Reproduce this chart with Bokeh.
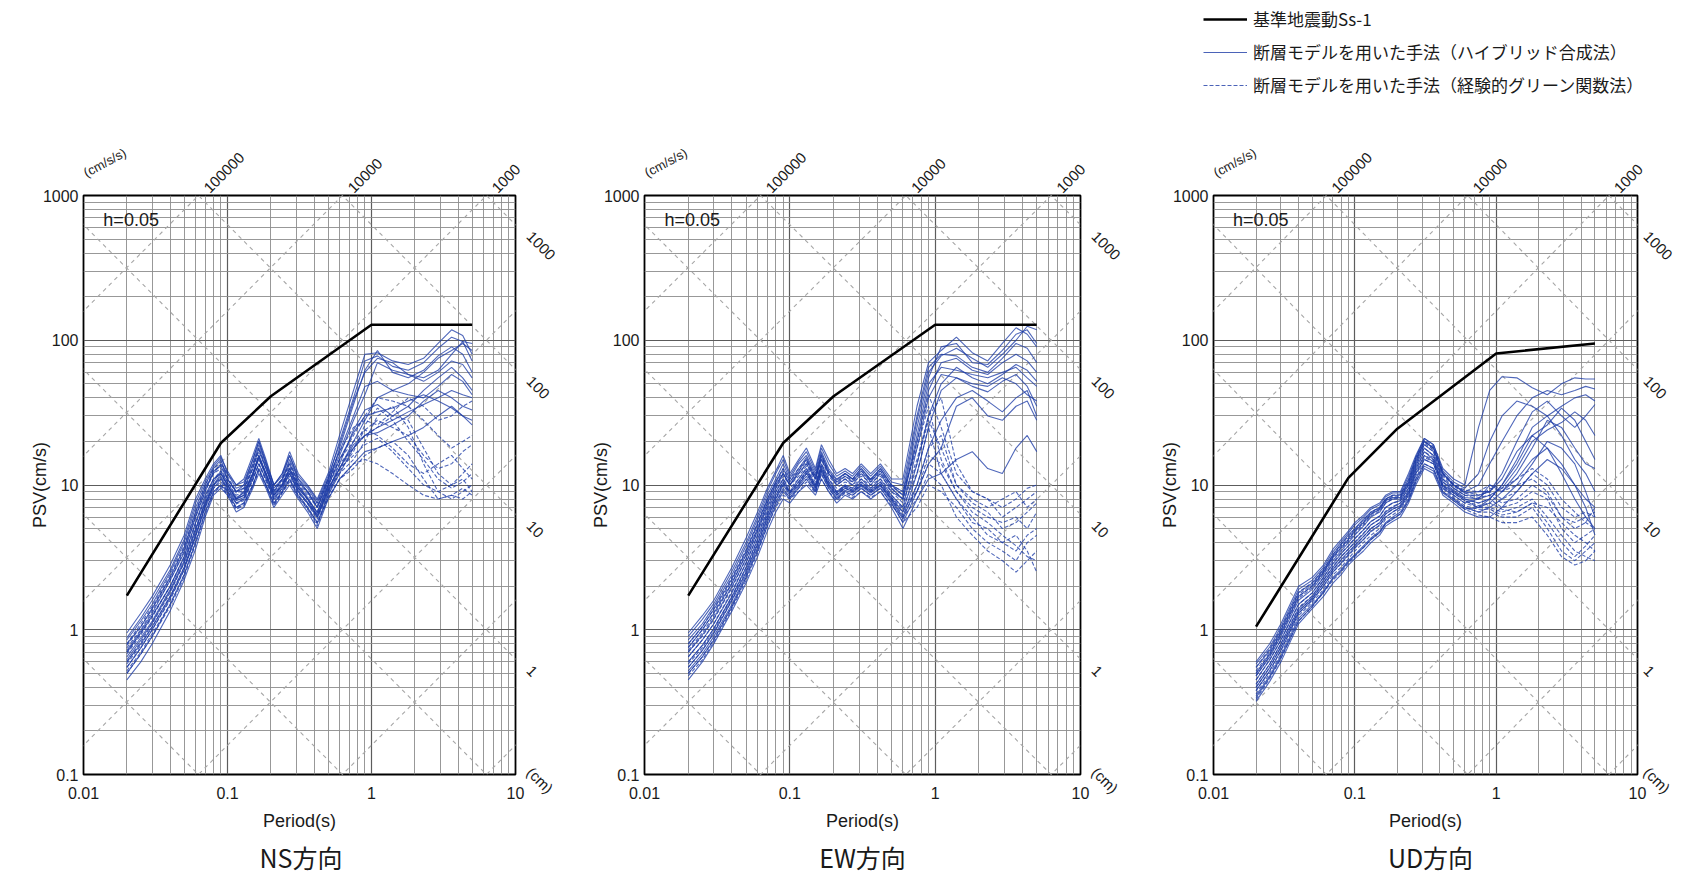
import math
from bokeh.plotting import figure
from bokeh.models import (FixedTicker, Label, Legend, LegendItem, CustomJSTickFormatter,
                          LogAxis, Spacer)
from bokeh.layouts import row, column
from bokeh.embed import file_html
from bokeh.resources import INLINE

# ---------------- data ----------------
PERIOD = [0.02, 0.025, 0.03, 0.04, 0.05, 0.06, 0.07, 0.08, 0.09, 0.1, 0.115, 0.13,
          0.15, 0.165, 0.185, 0.21, 0.24, 0.27, 0.31, 0.36, 0.42, 0.5, 0.6, 0.75,
          0.9, 1.1, 1.4, 1.8, 2.3, 2.9, 3.6, 4.3, 5.0]

SS_PERIOD = [0.02, 0.09, 0.2, 1.0, 5.0]
SS_H = [1.72, 19.5, 41.0, 128.0, 128.0]
SS_V = [1.05, 11.2, 24.5, 81.0, 95.0]

NS_HYBRID = [
    [0.95, 1.3, 1.7, 2.8, 4.5, 8.0, 11, 14, 16, 12, 10, 11, 16, 21, 15, 10, 12, 17, 12, 10, 8, 12, 22, 45, 80, 82, 72, 68, 75, 95, 118, 108, 80],
    [0.85, 1.15, 1.5, 2.5, 4.0, 7.0, 10, 13, 15, 11, 9, 10, 14, 19, 14, 9, 11, 15, 11, 9, 7, 11, 20, 40, 72, 78, 66, 62, 70, 88, 105, 98, 72],
    [0.7, 0.95, 1.25, 2.0, 3.2, 5.5, 8.5, 11, 12, 10, 8, 9, 12, 16, 12, 8.5, 10, 13, 10, 8, 6.5, 10, 18, 36, 62, 85, 60, 55, 62, 78, 90, 80, 60],
    [0.6, 0.8, 1.05, 1.7, 2.7, 4.5, 7, 9.5, 11, 9.5, 7.5, 8, 11, 14, 11, 8, 9.5, 12, 9, 7.5, 6, 9, 14, 24, 33, 36, 30, 35, 45, 55, 65, 55, 45],
    [0.5, 0.68, 0.9, 1.5, 2.4, 4.0, 6.5, 9, 10, 9, 7, 7.5, 10, 13, 10, 7.5, 9, 11, 8.5, 7, 5.5, 8.5, 12, 18, 22, 25, 28, 32, 36, 40, 45, 42, 40],
    [0.45, 0.6, 0.8, 1.35, 2.2, 3.6, 6, 8.5, 9.5, 8.5, 6.5, 7, 9.5, 12, 9.5, 7, 8.5, 10, 8, 6.5, 5, 8, 11, 14, 17, 18, 20, 22, 25, 30, 35, 30, 28],
    [0.8, 1.05, 1.4, 2.3, 3.7, 6.5, 9.5, 12, 14, 12, 9.5, 10, 15, 20, 14, 10, 12, 16, 11, 9.5, 7.5, 11, 17, 30, 48, 52, 45, 50, 60, 75, 85, 95, 85],
    [0.65, 0.88, 1.15, 1.9, 3.0, 5.0, 7.5, 10, 12, 10, 8, 8.5, 12, 15, 12, 8.5, 10, 12.5, 9.5, 8, 6, 9.5, 13, 19, 22, 23, 26, 30, 38, 45, 40, 35, 33],
    [0.72, 0.98, 1.3, 2.2, 3.4, 6.0, 9.0, 12.5, 13.5, 11, 9, 9.5, 13, 18, 13, 9.5, 11, 14, 10.5, 9, 7, 10.5, 16, 28, 42, 70, 62, 58, 52, 60, 72, 68, 55],
    [0.55, 0.75, 1.0, 1.65, 2.6, 4.4, 7.2, 10, 11.5, 9.5, 7.8, 8.2, 11.5, 15.5, 11.5, 8.2, 9.8, 12, 9.2, 7.6, 6.2, 9.2, 13, 20, 28, 40, 45, 42, 40, 48, 58, 52, 42],
    [0.88, 1.2, 1.6, 2.6, 4.2, 7.5, 10.5, 13.5, 15.5, 12.5, 10, 10.5, 15, 20, 14.5, 10, 11.5, 16, 11.5, 9.8, 7.8, 11.5, 19, 38, 60, 75, 70, 58, 55, 62, 80, 98, 95],
    [0.62, 0.85, 1.12, 1.85, 2.9, 4.8, 7.8, 10.5, 12.5, 10.5, 8.2, 8.8, 12, 16, 12, 8.8, 10.2, 13, 9.8, 8.2, 6.4, 9.8, 15, 23, 30, 32, 34, 38, 42, 38, 34, 30, 26],
]
NS_EGF = [
    [0.75, 1.0, 1.35, 2.2, 3.5, 6, 9, 12, 13, 10.5, 8.5, 9, 13, 17, 13, 9, 10.5, 13.5, 10, 8.5, 7, 10, 14, 18, 22, 25, 30, 28, 18, 12, 10, 12, 14],
    [0.6, 0.82, 1.1, 1.8, 2.9, 5, 7.5, 10, 11, 9, 7.5, 8, 11, 14, 11, 8, 9.5, 12, 9, 7.5, 6, 9, 12, 15, 20, 30, 35, 25, 14, 9, 8, 9, 10],
    [0.7, 0.95, 1.25, 2.0, 3.2, 5.5, 8, 11, 12.5, 10, 8, 8.5, 12, 16, 12, 8.5, 10, 13, 9.5, 8, 6.5, 10, 15, 22, 30, 40, 38, 35, 28, 22, 18, 20, 22],
    [0.55, 0.75, 1.0, 1.6, 2.6, 4.4, 7, 9.5, 10.5, 9, 7, 7.5, 10, 13, 10, 7.5, 9, 11, 8.5, 7, 5.5, 8, 11, 13, 16, 18, 20, 16, 11, 8, 8.5, 8, 9],
    [0.8, 1.1, 1.45, 2.4, 3.8, 6.5, 10, 13, 14.5, 11.5, 9, 9.5, 14, 18, 13.5, 9.5, 11, 14.5, 10.5, 9, 7.5, 11, 17, 25, 28, 26, 32, 40, 35, 28, 30, 35, 38],
    [0.5, 0.68, 0.9, 1.45, 2.3, 3.9, 6.2, 8.8, 9.8, 8.5, 6.8, 7.2, 9.8, 12.5, 9.8, 7.2, 8.8, 10.5, 8.2, 6.8, 5.2, 8.5, 13, 18, 24, 22, 18, 14, 12, 14, 16, 13, 11],
    [0.68, 0.92, 1.22, 2.0, 3.1, 5.3, 8.2, 11, 12, 9.8, 8, 8.5, 11.5, 15.5, 11.5, 8.5, 10, 12.5, 9.5, 8, 6.2, 9.5, 13, 16, 19, 21, 17, 13, 10, 9, 10, 11, 9],
    [0.58, 0.78, 1.05, 1.7, 2.7, 4.7, 7.3, 10, 11.2, 9.2, 7.4, 7.8, 10.8, 14, 10.6, 7.8, 9.2, 11.5, 8.8, 7.4, 5.8, 8.8, 12.5, 17, 26, 34, 28, 20, 15, 11, 9.5, 10.5, 12],
    [0.78, 1.05, 1.4, 2.3, 3.6, 6.2, 9.5, 12.5, 13.8, 11, 8.8, 9.2, 13.5, 17.5, 13, 9.2, 10.8, 14, 10.2, 8.8, 7.2, 10.5, 15, 20, 24, 28, 25, 22, 16, 13, 14, 17, 19],
    [0.52, 0.7, 0.94, 1.5, 2.4, 4.1, 6.5, 9, 10, 8.7, 6.9, 7.3, 10, 12.8, 10, 7.3, 8.9, 10.8, 8.3, 6.9, 5.4, 8.2, 11, 14, 15, 14, 12, 10, 8.5, 8, 8.5, 9.5, 8.5],
]

EW_HYBRID = [
    [0.95, 1.25, 1.6, 2.7, 4.3, 6.5, 9.5, 12.5, 16, 12, 15, 18, 13, 19, 15, 12, 13, 12, 14, 12, 14, 11, 11, 35, 70, 85, 105, 82, 72, 95, 122, 110, 90],
    [0.85, 1.1, 1.45, 2.4, 3.8, 5.8, 8.5, 11, 14, 11, 14, 16, 12, 17, 13, 11, 12, 11, 13, 11, 13, 10, 9, 28, 60, 78, 88, 75, 65, 80, 100, 125, 118],
    [0.75, 1.0, 1.3, 2.1, 3.3, 5.0, 7.5, 10, 12, 10, 12, 14, 11, 15, 12, 10, 11, 10, 12, 10, 12, 9, 8, 22, 50, 65, 62, 58, 55, 60, 65, 55, 48],
    [0.65, 0.85, 1.1, 1.8, 2.9, 4.5, 6.5, 9, 11, 9, 11, 13, 10, 14, 11, 9, 10, 9.5, 11, 9.5, 11, 8.5, 7, 18, 40, 58, 55, 50, 48, 55, 50, 42, 38],
    [0.55, 0.72, 0.95, 1.6, 2.5, 3.9, 5.8, 8, 10, 8.5, 10, 12, 9.5, 13, 10, 8.5, 9.5, 9, 10, 9, 10, 8, 6, 12, 25, 45, 55, 48, 44, 52, 58, 48, 35],
    [0.5, 0.65, 0.85, 1.45, 2.3, 3.5, 5.2, 7.2, 9, 8, 9.5, 11, 9, 12, 9.5, 8, 9, 8.5, 9.5, 8.5, 9.5, 7.5, 5.5, 9, 14, 18, 35, 40, 30, 28, 35, 38, 28],
    [0.7, 0.92, 1.2, 2.0, 3.1, 4.8, 7, 9.5, 12, 10, 12.5, 15, 11, 16, 12, 10.5, 11.5, 10.5, 12.5, 10.5, 12.5, 9.5, 8, 20, 45, 70, 75, 62, 58, 70, 80, 72, 60],
    [0.45, 0.6, 0.8, 1.35, 2.1, 3.2, 4.8, 6.5, 8, 7.5, 9, 10, 8.5, 11, 9, 7.5, 8.5, 8, 9, 8, 9, 7, 5, 8, 11, 12, 15, 17, 13, 12, 18, 22, 17],
    [0.8, 1.05, 1.38, 2.25, 3.5, 5.4, 8, 10.5, 13, 10.5, 13, 15.5, 11.5, 16.5, 12.5, 10.8, 12, 11, 13, 10.8, 13, 10, 8.5, 25, 55, 90, 95, 70, 68, 85, 110, 118, 95],
    [0.6, 0.78, 1.02, 1.7, 2.7, 4.2, 6.2, 8.5, 10.5, 8.8, 10.5, 12.5, 9.8, 13.5, 10.5, 8.8, 9.8, 9.2, 10.5, 9.2, 10.5, 8.2, 6.5, 14, 30, 50, 65, 55, 50, 58, 68, 62, 52],
    [0.52, 0.68, 0.9, 1.5, 2.4, 3.7, 5.5, 7.6, 9.5, 8.2, 9.8, 11.5, 9.2, 12.5, 9.8, 8.2, 9.2, 8.8, 9.8, 8.8, 9.8, 7.8, 5.8, 10, 18, 28, 40, 45, 38, 32, 40, 45, 30],
    [0.9, 1.18, 1.52, 2.55, 4.0, 6.1, 9, 12, 15, 11.5, 14.5, 17, 12.5, 18, 14, 11.5, 12.5, 11.5, 13.5, 11.5, 13.5, 10.5, 10, 30, 65, 80, 78, 65, 60, 75, 95, 88, 70],
]
EW_EGF = [
    [0.8, 1.05, 1.4, 2.3, 3.6, 5.5, 8, 10.5, 13, 11, 13, 15, 11.5, 16, 12.5, 10.5, 12, 11, 12.5, 11, 12.5, 10, 9, 18, 35, 15, 9, 7, 6, 5.5, 6, 5, 6.5],
    [0.65, 0.85, 1.1, 1.85, 2.9, 4.5, 6.8, 9, 11, 9.5, 11, 13, 10, 13.5, 10.5, 9, 10, 9.5, 10.5, 9.5, 10.5, 8.5, 7, 12, 25, 12, 8, 6, 4.5, 4, 3.5, 4.5, 5],
    [0.55, 0.72, 0.95, 1.6, 2.5, 3.9, 5.9, 8, 10, 8.8, 10, 12, 9.5, 12.5, 10, 8.5, 9.5, 9, 10, 9, 10, 8, 6.5, 10, 18, 22, 10, 8, 7, 8, 9, 7, 8],
    [0.48, 0.62, 0.82, 1.4, 2.2, 3.4, 5.2, 7, 8.5, 8, 9, 10.5, 8.8, 11, 9, 7.8, 8.8, 8.2, 9, 8.2, 9, 7.2, 6, 8, 12, 10, 6, 4.5, 3.5, 3, 2.5, 3, 3.5],
    [0.72, 0.95, 1.25, 2.1, 3.3, 5, 7.5, 10, 12, 10, 12, 14, 11, 15, 11.5, 10, 11, 10.5, 11.5, 10.5, 11.5, 9.5, 8, 15, 30, 40, 14, 9, 8, 6, 7, 8, 9],
    [0.6, 0.78, 1.02, 1.7, 2.7, 4.2, 6.3, 8.5, 10.5, 9, 10.5, 12.5, 9.8, 13, 10.2, 8.8, 9.8, 9.2, 10.2, 9.2, 10.2, 8.2, 6.8, 9, 14, 12, 8, 5.5, 5, 4, 4.5, 3.5, 2.5],
    [0.7, 0.9, 1.18, 1.95, 3.1, 4.8, 7.2, 9.5, 11.5, 10, 11.5, 13.5, 10.5, 14, 11, 9.5, 10.5, 10, 11, 10, 11, 9, 7.5, 14, 28, 18, 10, 7.5, 6.5, 5, 5.5, 6.5, 7.5],
    [0.58, 0.75, 0.98, 1.65, 2.6, 4.0, 6, 8.2, 10.2, 8.9, 10.2, 12.2, 9.6, 12.8, 10, 8.6, 9.6, 9, 10, 9, 10, 8, 6.2, 9, 16, 14, 9, 6.5, 5.5, 4.5, 3.8, 3.2, 3],
    [0.5, 0.65, 0.86, 1.45, 2.3, 3.6, 5.5, 7.5, 9.2, 8.2, 9.5, 11, 9, 11.8, 9.5, 8, 9, 8.5, 9.5, 8.5, 9.5, 7.5, 5.5, 7, 10, 9, 7, 5, 4, 3.5, 3, 4, 4.5],
    [0.76, 1.0, 1.32, 2.2, 3.45, 5.3, 7.8, 10.3, 12.5, 10.5, 12.5, 14.5, 11.2, 15.5, 12, 10.2, 11.5, 10.8, 12, 10.8, 12, 9.8, 8.5, 20, 42, 25, 12, 9, 8, 7, 8, 9.5, 10],
]

UD_HYBRID = [
    [0.6, 0.8, 1.1, 2.0, 2.3, 2.8, 3.6, 4.2, 4.8, 5.5, 6.2, 7, 7.5, 8.5, 9, 9, 12, 16, 21, 19, 13, 11, 10, 25, 45, 56, 55, 47, 42, 50, 55, 54, 54],
    [0.55, 0.72, 1.0, 1.8, 2.1, 2.6, 3.3, 3.9, 4.5, 5.0, 5.8, 6.5, 7, 8, 8.5, 8.5, 11, 15, 20, 18, 12, 10, 9, 10, 14, 20, 30, 40, 45, 42, 45, 48, 46],
    [0.48, 0.65, 0.9, 1.6, 1.9, 2.4, 3.0, 3.5, 4.0, 4.5, 5.2, 6, 6.5, 7.5, 8, 8, 10, 14, 19, 17, 11, 9.5, 8.5, 8.5, 9, 12, 20, 32, 38, 30, 25, 30, 36],
    [0.42, 0.58, 0.8, 1.4, 1.7, 2.2, 2.7, 3.2, 3.6, 4.0, 4.6, 5.3, 5.8, 6.5, 7, 7.5, 9, 13, 17, 15, 10, 9, 8, 7.5, 8, 10, 15, 25, 30, 22, 15, 12, 9],
    [0.38, 0.52, 0.72, 1.3, 1.6, 2.0, 2.5, 2.9, 3.3, 3.7, 4.2, 4.8, 5.3, 6, 6.5, 7, 8.5, 12, 15, 14, 9.5, 8.5, 7.5, 8, 10, 9, 12, 18, 28, 25, 18, 14, 13],
    [0.35, 0.48, 0.66, 1.2, 1.5, 1.8, 2.3, 2.6, 3.0, 3.3, 3.8, 4.3, 4.8, 5.5, 6, 6.5, 8, 11, 14, 13, 9, 8, 7, 6.5, 7, 8, 10, 14, 20, 18, 14, 9, 6],
    [0.5, 0.68, 0.95, 1.7, 2.0, 2.5, 3.2, 3.7, 4.2, 4.8, 5.5, 6.3, 6.8, 7.8, 8.2, 8.2, 10.5, 14.5, 20, 18, 12, 10, 8.8, 9, 9, 11, 17, 22, 26, 34, 28, 20, 15],
    [0.32, 0.44, 0.6, 1.1, 1.4, 1.7, 2.1, 2.4, 2.8, 3.1, 3.5, 4.0, 4.5, 5.2, 5.6, 6, 7.5, 10, 13, 12, 8.5, 7.5, 6.5, 6, 6, 7, 9, 12, 15, 13, 10, 7, 4.5],
    [0.45, 0.62, 0.85, 1.5, 1.8, 2.3, 2.85, 3.35, 3.8, 4.25, 4.9, 5.6, 6.1, 7, 7.5, 7.8, 9.5, 13.5, 18, 16, 10.5, 9.2, 8.2, 8, 8.5, 9.5, 13, 20, 24, 27, 32, 28, 22],
    [0.58, 0.76, 1.05, 1.9, 2.2, 2.7, 3.45, 4.05, 4.65, 5.3, 6.0, 6.8, 7.3, 8.3, 8.8, 8.8, 11.5, 15.5, 21, 19, 12.5, 10.5, 9.5, 12, 20, 30, 38, 35, 30, 35, 40, 42, 38],
    [0.4, 0.55, 0.76, 1.35, 1.65, 2.1, 2.6, 3.05, 3.45, 3.85, 4.4, 5.0, 5.5, 6.3, 6.8, 7.2, 8.8, 12.5, 16, 14.5, 9.8, 8.8, 7.8, 7, 7.5, 9, 11, 15, 18, 14, 10, 8, 7],
    [0.34, 0.47, 0.64, 1.15, 1.45, 1.85, 2.25, 2.55, 2.95, 3.25, 3.7, 4.2, 4.7, 5.4, 5.8, 6.3, 7.8, 10.5, 13.5, 12.5, 8.8, 7.8, 6.8, 7, 8, 10, 14, 22, 18, 12, 8, 6, 5],
]
UD_EGF = [
    [0.52, 0.7, 0.98, 1.75, 2.05, 2.55, 3.2, 3.8, 4.3, 4.9, 5.6, 6.4, 6.9, 7.9, 8.4, 8.4, 10.5, 15, 20, 18, 12, 10, 9, 8.5, 9, 8, 9, 12, 10, 7, 6, 6.5, 6],
    [0.45, 0.62, 0.85, 1.5, 1.8, 2.3, 2.9, 3.4, 3.8, 4.3, 4.9, 5.6, 6.1, 7, 7.5, 7.8, 9.5, 13.5, 18, 16, 11, 9, 8, 7.5, 8, 7, 7.5, 9, 8, 5, 4, 4.5, 5],
    [0.4, 0.55, 0.76, 1.35, 1.65, 2.1, 2.6, 3.0, 3.4, 3.8, 4.4, 5.0, 5.5, 6.3, 6.8, 7.2, 8.8, 12, 16, 15, 10, 8.5, 7.5, 7, 7, 6.5, 7, 8, 6, 4.5, 3.5, 3.2, 3],
    [0.36, 0.5, 0.68, 1.25, 1.55, 1.9, 2.4, 2.7, 3.1, 3.5, 4.0, 4.5, 5.0, 5.8, 6.2, 6.8, 8.2, 11, 15, 14, 9.5, 8, 7, 6.5, 6.5, 6, 6, 7, 5, 3.5, 3.0, 3.5, 4],
    [0.48, 0.66, 0.92, 1.65, 1.95, 2.45, 3.1, 3.6, 4.1, 4.6, 5.3, 6.1, 6.6, 7.5, 8, 8.1, 10, 14, 19, 17, 11.5, 9.5, 8.5, 8, 9.5, 9, 10, 11, 9, 6, 5, 5.5, 7],
    [0.33, 0.46, 0.63, 1.15, 1.45, 1.8, 2.2, 2.5, 2.9, 3.2, 3.7, 4.2, 4.7, 5.4, 5.9, 6.3, 7.8, 10.5, 14, 13, 9, 7.8, 6.8, 6.2, 6, 5.5, 5.5, 6, 4.5, 3.2, 2.8, 3, 3.5],
    [0.5, 0.68, 0.95, 1.7, 2.0, 2.5, 3.15, 3.7, 4.2, 4.75, 5.45, 6.25, 6.75, 7.7, 8.2, 8.3, 10.2, 14.5, 19.5, 17.5, 11.8, 9.8, 8.8, 8.2, 8.5, 7.5, 8, 10, 8.5, 6, 5.5, 6, 6.5],
    [0.42, 0.58, 0.8, 1.42, 1.72, 2.2, 2.75, 3.2, 3.6, 4.05, 4.65, 5.3, 5.8, 6.6, 7.1, 7.5, 9.2, 12.8, 17, 15.5, 10.5, 8.8, 7.8, 7.2, 7.5, 6.8, 6.5, 7.5, 7, 5.5, 4.5, 4, 3.5],
    [0.38, 0.52, 0.72, 1.3, 1.6, 2.0, 2.5, 2.85, 3.25, 3.65, 4.2, 4.75, 5.25, 6.0, 6.5, 7.0, 8.5, 11.5, 15.5, 14.5, 9.8, 8.2, 7.2, 6.8, 6.8, 6.2, 6.5, 7.5, 5.5, 4, 3.2, 3.8, 4.5],
    [0.55, 0.74, 1.02, 1.82, 2.12, 2.62, 3.3, 3.9, 4.4, 5.0, 5.7, 6.5, 7.0, 8.0, 8.5, 8.6, 10.8, 15.5, 20.5, 18.5, 12.2, 10.2, 9.2, 9, 10, 9.5, 11, 13, 11, 8, 6.5, 5.5, 5],
]

X_TICKS = [0.01, 0.1, 1, 10]
Y_TICKS = [0.1, 1, 10, 100, 1000]
ACC_LABELS = [100000, 10000, 1000]
DISP_LABELS = [1, 10, 100, 1000]
DIAG_ACC = [0.1, 1, 10, 100, 1000, 10000, 100000, 1000000]
DIAG_DISP = [0.0001, 0.001, 0.01, 0.1, 1, 10, 100, 1000, 10000]

TITLES = ["NS方向", "EW方向", "UD方向"]
LEGEND_LABELS = ["基準地震動Ss-1",
                 "断層モデルを用いた手法（ハイブリッド合成法）",
                 "断層モデルを用いた手法（経験的グリーン関数法）"]

# ---------------- style / layout ----------------
BLUE = "#1e3ca6"
LATIN = "Liberation Sans"
CJK = "Noto Sans CJK JP"
TXT = "#1a1a1a"
PX_DEC = 145.0
TWO_PI = 2 * math.pi
TOP_B, FRAME_H, BOT_B = 95, 579, 64
LEG_H, TITLE_H = 100, 36

X_MINOR = [k * 10.0 ** e for e in (-2, -1, 0) for k in range(2, 10)]
Y_MINOR = [k * 10.0 ** e for e in (-1, 0, 1, 2) for k in range(2, 10)]


def sx(v, px):
    return v * 10 ** (px / PX_DEC)


def sy(v, px):
    return v * 10 ** (-px / PX_DEC)


def label_formatter(labels):
    return CustomJSTickFormatter(args=dict(labels=labels), code="return labels[index];")


def plain_axis(ax):
    ax.axis_line_color = None
    ax.major_tick_line_color = None
    ax.minor_tick_line_color = None
    ax.major_tick_out = 0
    ax.major_tick_in = 0
    ax.minor_tick_out = 0
    ax.minor_tick_in = 0
    ax.major_label_text_font = LATIN
    ax.major_label_text_color = TXT


def panel(ss_vals, hybrid, egf, width, lb, rb, right_standoff):
    p = figure(width=width, height=TOP_B + FRAME_H + BOT_B, x_axis_type="log", y_axis_type="log",
               x_range=(0.01, 10), y_range=(0.1, 1000),
               output_backend="svg", toolbar_location=None,
               min_border_left=lb, min_border_right=rb,
               min_border_top=TOP_B, min_border_bottom=BOT_B)
    p.background_fill_color = "white"
    p.border_fill_color = "white"
    p.outline_line_color = "black"
    p.outline_line_width = 1.8

    xt = FixedTicker(ticks=X_TICKS, minor_ticks=X_MINOR)
    yt = FixedTicker(ticks=Y_TICKS, minor_ticks=Y_MINOR)
    p.xaxis.ticker = xt
    p.yaxis.ticker = yt
    p.xgrid.ticker = xt
    p.ygrid.ticker = yt
    fmt = CustomJSTickFormatter(code="return tick.toString();")
    for ax in (p.xaxis, p.yaxis):
        ax.formatter = fmt
        plain_axis(ax)
        ax.major_label_text_font_size = "16px"
        ax.axis_label_text_font = LATIN
        ax.axis_label_text_font_size = "18px"
        ax.axis_label_text_font_style = "normal"
        ax.axis_label_text_color = TXT
    p.xaxis.major_label_standoff = 12
    p.yaxis.major_label_standoff = 5
    p.xaxis.axis_label = "Period(s)"
    p.xaxis.axis_label_standoff = 9
    p.yaxis.axis_label = "PSV(cm/s)"
    p.yaxis.axis_label_standoff = -10
    for g in (p.xgrid, p.ygrid):
        g.grid_line_color = "#5c5c5c"
        g.grid_line_width = 1.2
        g.minor_grid_line_color = "#8c8c8c"
        g.minor_grid_line_width = 0.9

    # acceleration scale labels along the top
    acc_pos = [sx(TWO_PI * 1000 / sa, 8) for sa in ACC_LABELS]
    top = LogAxis(ticker=FixedTicker(ticks=acc_pos, minor_ticks=[]),
                  formatter=label_formatter([str(v) for v in ACC_LABELS]))
    plain_axis(top)
    top.major_label_text_font_size = "15px"
    top.major_label_orientation = math.pi / 4
    top.major_label_standoff = 5
    p.add_layout(top, "above")

    unit_top = LogAxis(ticker=FixedTicker(ticks=[sx(0.01, 1)], minor_ticks=[]),
                       formatter=label_formatter(["(cm/s/s)"]))
    plain_axis(unit_top)
    unit_top.major_label_text_font_size = "13px"
    unit_top.major_label_orientation = math.radians(28)
    unit_top.major_label_standoff = -28
    p.add_layout(unit_top, "above")

    # displacement scale labels along the right side
    disp_pos = [sy(0.1, -5)] + [sy(TWO_PI * sd / 10, 9) for sd in DISP_LABELS]
    right = LogAxis(ticker=FixedTicker(ticks=disp_pos, minor_ticks=[]),
                    formatter=label_formatter(["(cm)"] + [str(v) for v in DISP_LABELS]))
    plain_axis(right)
    right.major_label_text_font_size = "15px"
    right.major_label_orientation = -math.pi / 4
    right.major_label_standoff = right_standoff
    p.add_layout(right, "right")

    # tripartite diagonals (constant displacement / acceleration)
    x0s, y0s, x1s, y1s = [], [], [], []
    for sd in DIAG_DISP:
        x0s.append(0.001); y0s.append(TWO_PI * sd / 0.001)
        x1s.append(100.0); y1s.append(TWO_PI * sd / 100.0)
    for sa in DIAG_ACC:
        x0s.append(0.001); y0s.append(sa * 0.001 / TWO_PI)
        x1s.append(100.0); y1s.append(sa * 100.0 / TWO_PI)
    p.segment(x0s, y0s, x1s, y1s, line_color="#a6a6a6", line_width=1.1, line_dash="4 4")

    p.multi_line([PERIOD] * len(hybrid), hybrid, line_color=BLUE,
                 line_width=1.1, line_alpha=0.78)
    p.multi_line([PERIOD] * len(egf), egf, line_color=BLUE,
                 line_width=1.1, line_alpha=0.78, line_dash="4 2")
    p.line(SS_PERIOD, ss_vals, line_color="black", line_width=2.6)

    p.add_layout(Label(x=sx(0.01, 20), y=sy(1000, 25), text="h=0.05", text_font=LATIN,
                       text_font_size="18px", text_baseline="middle", text_align="left",
                       text_color=TXT))
    return p


def blank_fig(width, height, lb=0, rb=0):
    f = figure(width=width, height=height, output_backend="svg", toolbar_location=None,
               x_range=(0, 1), y_range=(-2, -1), min_border=0,
               min_border_left=lb, min_border_right=rb)
    f.axis.visible = False
    f.grid.visible = False
    f.outline_line_color = None
    return f


def title_fig(text, width, lb, rb):
    f = blank_fig(width, TITLE_H, lb, rb)
    f.add_layout(Label(x=0.5, y=-1.5, text=text, text_font=CJK, text_font_size="25px",
                       text_align="center", text_baseline="middle", text_color=TXT))
    return f


def legend_fig(width):
    lf = blank_fig(width, LEG_H)
    # legend samples use the chart's own series; the y range keeps them out of view
    r_s = lf.line(SS_PERIOD, SS_H, line_color="black", line_width=2.6)
    r_h = lf.multi_line([PERIOD] * len(UD_HYBRID), UD_HYBRID, line_color=BLUE,
                        line_width=1.2, line_alpha=0.8)
    r_e = lf.multi_line([PERIOD] * len(UD_EGF), UD_EGF, line_color=BLUE,
                        line_width=1.2, line_alpha=0.8, line_dash="4 2")
    legend = Legend(items=[LegendItem(label=LEGEND_LABELS[0], renderers=[r_s]),
                           LegendItem(label=LEGEND_LABELS[1], renderers=[r_h]),
                           LegendItem(label=LEGEND_LABELS[2], renderers=[r_e])],
                    location="top_left", orientation="vertical",
                    label_text_font=CJK, label_text_font_size="17px",
                    label_text_color=TXT,
                    glyph_width=44, glyph_height=24, label_height=24,
                    label_standoff=6, spacing=8, padding=0, margin=6,
                    border_line_color=None, background_fill_alpha=0)
    lf.add_layout(legend)
    return lf


W = [568, 568, 549]
LB = [83, 76, 77]
RB = [50, 56, 38]
RSTAND = [14, 14, 9]

plots = [
    panel(SS_H, NS_HYBRID, NS_EGF, W[0], LB[0], RB[0], RSTAND[0]),
    panel(SS_H, EW_HYBRID, EW_EGF, W[1], LB[1], RB[1], RSTAND[1]),
    panel(SS_V, UD_HYBRID, UD_EGF, W[2], LB[2], RB[2], RSTAND[2]),
]
titles = [title_fig(TITLES[i], W[i], LB[i], RB[i]) for i in range(3)]

layout = column(row(Spacer(width=1197, height=LEG_H), legend_fig(1685 - 1197)),
                row(*plots),
                row(*titles))
open("out.html", "w").write(file_html(layout, INLINE))
